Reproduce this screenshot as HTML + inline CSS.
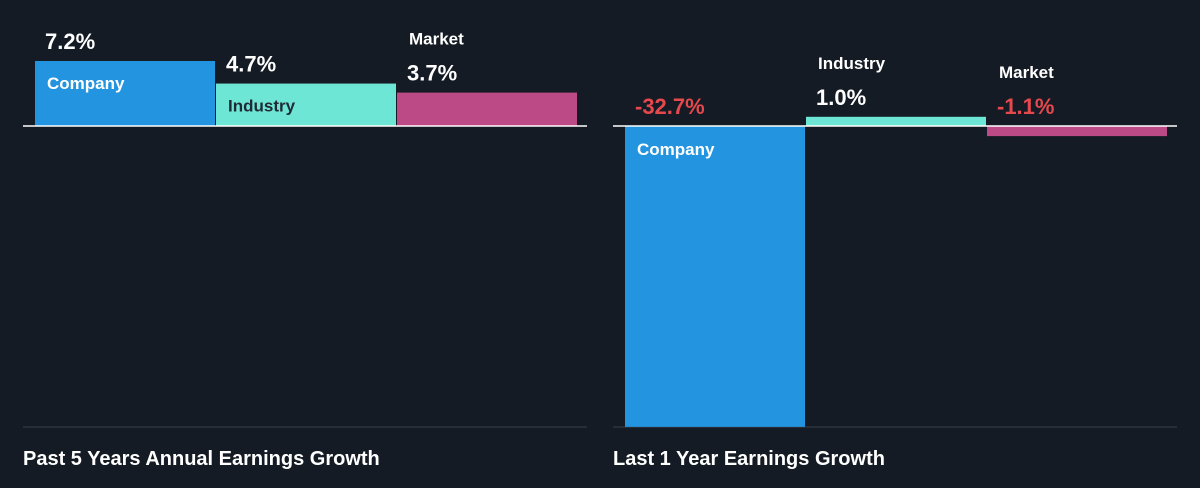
<!DOCTYPE html>
<html><head><meta charset="utf-8"><style>
html,body{margin:0;padding:0;background:#151b24;}
svg{display:block;font-family:"Liberation Sans",sans-serif;}
</style></head><body>
<svg id="chart" width="1200" height="488" xmlns="http://www.w3.org/2000/svg">
<rect width="1200" height="488" fill="#151b24"/>
<line x1="23" y1="427" x2="587" y2="427" stroke="#3a404a" stroke-width="1"/>
<line x1="613" y1="427" x2="1177" y2="427" stroke="#3a404a" stroke-width="1"/>
<text x="23" y="465" fill="#ffffff" font-size="20" font-weight="bold">Past 5 Years Annual Earnings Growth</text>
<text x="613" y="465" fill="#ffffff" font-size="20" font-weight="bold">Last 1 Year Earnings Growth</text>
</svg>
<script>
const categories = ["Company", "Industry", "Market"];
const past5Values = [7.2, 4.7, 3.7];
const last1Values = [-32.7, 1.0, -1.1];
const NS = "http://www.w3.org/2000/svg";
const svg = document.getElementById("chart");
const colors = ["#2394df", "#6ee6d6", "#bb4a86"];
const labelColors = ["#ffffff", "#1f2a35", "#ffffff"];
function mk(tag, attrs){const e=document.createElementNS(NS,tag);for(const k in attrs)e.setAttribute(k,attrs[k]);svg.appendChild(e);return e;}
function drawPanel(values, x0, x1, pxPer, prefix){
  const base = 126;
  const yScale = v => base - v*pxPer;
  values.forEach((v,i)=>{
    const bx = x0 + 12 + i*181;
    const top = Math.min(yScale(v), base), bot = Math.max(yScale(v), base);
    const h = bot - top;
    const r = mk("rect",{x:bx,y:top,width:180,height:Math.max(h,0.5),fill:colors[i]});
    
    
    const valY = top - 12;
    const val = mk("text",{x:bx+10,y:valY,fill:v<0?"#e5484d":"#ffffff","font-size":"22","font-weight":"bold"});
    val.textContent = v.toFixed(1)+"%";
    
    
    let lx, ly, lc;
    if (h > 40){ ly = top + 28; lc = labelColors[i]; lx = bx+12; }
    else { ly = valY - 36; lc = "#ffffff"; lx = bx+12; }
    if (h > 40 && v < 0) ly = base + 29;
    const lab = mk("text",{x:lx,y:ly,fill:lc,"font-size":"17","font-weight":"bold"});
    lab.textContent = categories[i];
    
    
  });
  const bl = mk("line",{x1:x0,y1:base,x2:x1,y2:base,stroke:"#ffffff","stroke-width":"1.5"});
  
  
}
drawPanel(past5Values, 23, 587, 9.03, "past5");
drawPanel(last1Values, 613, 1177, 9.2, "last1");
</script>
</body></html>
